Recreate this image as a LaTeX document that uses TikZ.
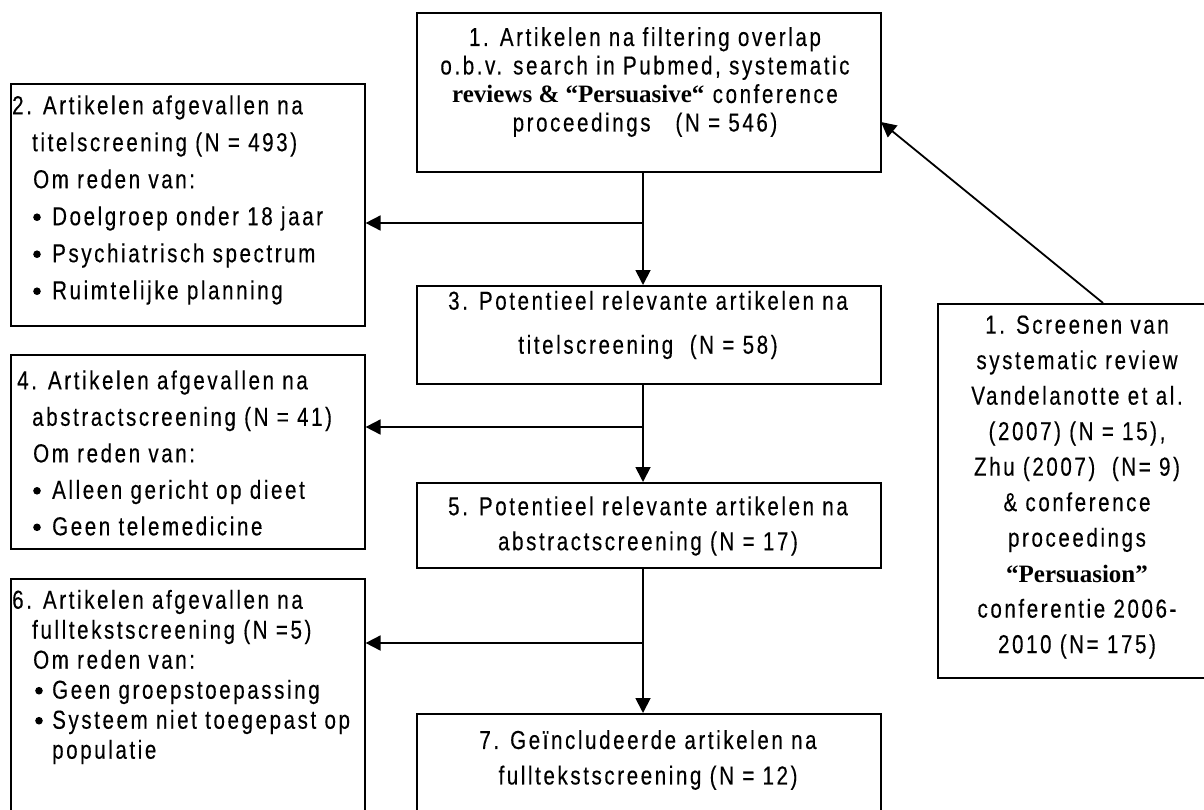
\documentclass[tikz,border=0pt]{standalone}
\usepackage{fontspec}
\setmainfont{Liberation Sans}[FakeStretch=0.79,LetterSpace=10,FakeBold=0.3]
\newfontfamily\tnr{Liberation Serif}
\usetikzlibrary{arrows.meta}
\newcommand{\bul}[1][19pt]{\makebox[#1][l]{\tikz[baseline=0pt]\fill (4pt,8pt) circle[radius=3.8pt];}}
\begin{document}
\begin{tikzpicture}[x=1pt,y=-1pt,
  box/.style={draw,line width=1.6pt,inner sep=0pt,anchor=north west},
  conn/.style={line width=1.8pt},
  arr/.style={conn,-{Triangle[length=15pt,width=15pt]}},
  txtc/.style={inner sep=0pt,align=center,anchor=center},
  txtl/.style={inner sep=0pt,align=left,anchor=west}]
\useasboundingbox (0,0) rectangle (1204,809);
% boxes
\node[box,minimum width=464pt,minimum height=159pt] (b1) at (416,12) {};
\node[box,minimum width=354pt,minimum height=242pt] (b2) at (10,83) {};
\node[box,minimum width=464pt,minimum height=98pt] (b3) at (416,285) {};
\node[box,minimum width=354pt,minimum height=194pt] (b4) at (10,354) {};
\node[box,minimum width=464pt,minimum height=85pt] (b5) at (416,482) {};
\node[box,minimum width=354pt,minimum height=260pt] (b6) at (10,578) {};
\node[box,minimum width=464pt,minimum height=130pt] (b7) at (416,713) {};
\node[box,minimum width=284pt,minimum height=374pt] (br) at (937,303) {};
% texts
\node[txtc,font=\fontsize{26}{28.5}\selectfont] (t1) at (645,82) {1. Artikelen na filtering overlap\\o.b.v. search in Pubmed, systematic\\{\tnr\bfseries\fontsize{25}{28.5}\selectfont reviews \& “Persuasive“} conference\\proceedings~~~(N = 546)};
\node[txtl,font=\fontsize{26}{37}\selectfont] (t2) at (12,200) {2. Artikelen afgevallen na\\\hspace*{20pt}titelscreening (N = 493)\\\hspace*{21pt}Om reden van:\\\hspace*{21pt}\bul Doelgroep onder 18 jaar\\\hspace*{21pt}\bul Psychiatrisch spectrum\\\hspace*{21pt}\bul Ruimtelijke planning};
\node[txtc,font=\fontsize{26}{44}\selectfont] (t3) at (648,325) {3. Potentieel relevante artikelen na\\titelscreening~~(N = 58)};
\node[txtl,font=\fontsize{26}{36.5}\selectfont] (t4) at (17,453) {4. Artikelen afgevallen na\\\hspace*{15pt}abstractscreening (N = 41)\\\hspace*{16pt}Om reden van:\\\hspace*{16pt}\bul Alleen gericht op dieet\\\hspace*{16pt}\bul Geen telemedicine};
\node[txtc,font=\fontsize{26}{35}\selectfont] (t5) at (648,526) {5. Potentieel relevante artikelen na\\abstractscreening (N = 17)};
\node[txtl,font=\fontsize{26}{30}\selectfont] (t6) at (12,677) {6. Artikelen afgevallen na\\\hspace*{20pt}fulltekstscreening (N =5)\\\hspace*{21pt}Om reden van:\\\hspace*{23pt}\bul[17pt]Geen groepstoepassing\\\hspace*{23pt}\bul[17pt]Systeem niet toegepast op\\\hspace*{40pt}populatie};
\node[txtc,font=\fontsize{26}{35.5}\selectfont] (t7) at (648,760) {7. Geïncludeerde artikelen na\\fulltekstscreening (N = 12)};
\node[txtc,font=\fontsize{26}{35.5}\selectfont] (tr) at (1077,487) {1. Screenen van\\systematic review\\Vandelanotte et al.\\(2007) (N = 15),\\Zhu (2007)~~(N= 9)\\\& conference\\proceedings\\{\tnr\bfseries\fontsize{25}{35.5}\selectfont “Persuasion”}\\conferentie 2006-\\2010 (N= 175)};
% connectors
\coordinate (s1) at (643,223);
\coordinate (s2) at (643,427);
\coordinate (s3) at (643,643);
\coordinate (rt) at (1103,303);
\coordinate (b1in) at (881,122);
\draw[arr] (b1.south -| s1) -- (b3.north -| s1);
\draw[arr] (s1) -- (b2.east |- s1);
\draw[arr] (b3.south -| s2) -- (b5.north -| s2);
\draw[arr] (s2) -- (b4.east |- s2);
\draw[arr] (b5.south -| s3) -- (b7.north -| s3);
\draw[arr] (s3) -- (b6.east |- s3);
\draw[arr] (rt) -- (b1in);
\end{tikzpicture}
\end{document}
